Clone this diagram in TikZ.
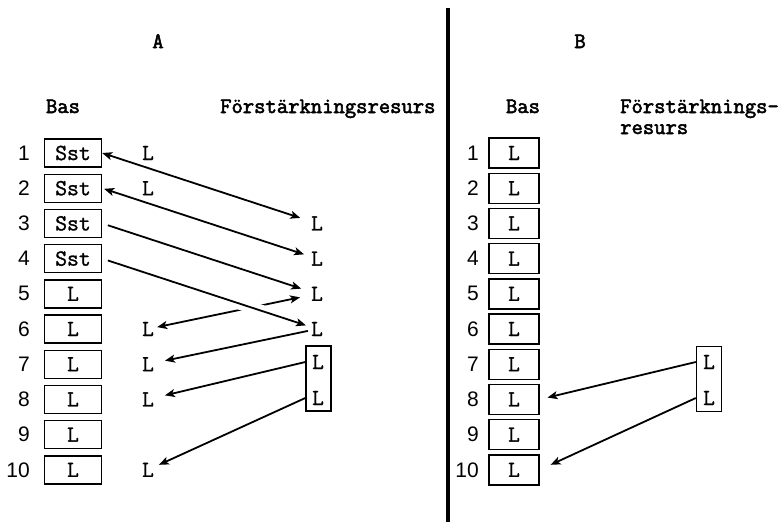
\documentclass[tikz,border=0pt]{standalone}
\usepackage{fontspec}
\setsansfont{Liberation Sans}
\newfontfamily\twr{Latin Modern Mono}[FakeBold=1.2]
\newfontfamily\twb{Latin Modern Mono}[FakeBold=2.5]
\usetikzlibrary{arrows.meta}
\begin{document}
\begin{tikzpicture}[x=1pt,y=-1pt,
  hdr/.style={font=\twb\fontsize{22}{21}\selectfont, inner sep=0pt, anchor=base},
  hdrw/.style={hdr, anchor=base west},
  num/.style={font=\sffamily\fontsize{21}{21}\selectfont, anchor=east, inner sep=0pt},
  lab/.style={font=\twr\fontsize{23}{23}\selectfont, inner sep=3pt},
  cell/.style={draw, line width=1.4pt, minimum width=57pt, minimum height=28pt, inner sep=0pt, font=\twr\fontsize{23}{23}\selectfont},
  cellb/.style={cell, minimum width=50pt, minimum height=30pt},
  rbox/.style={draw, line width=1.4pt, minimum width=25pt, minimum height=65pt, inner sep=0pt},
  tip/.tip={Stealth[length=10pt,width=8pt,inset=2.5pt]},
  arr/.style={line width=1.8pt, -tip},
  darr/.style={line width=1.8pt, tip-tip},
]
\useasboundingbox (0,0) rectangle (783,522);
\fill[white] (0,0) rectangle (783,522);

% divider
\draw[line width=4pt] (448,8) -- (448,522);

% ---------- panel A ----------
\node[hdr] (hA) at (158,48) {A};
\node[hdr] (basA) at (63,113) {Bas};
\node[hdrw] (fA) at (220,113) {Förstärkningsresurs};

\foreach \i in {1,...,10}{
  \pgfmathsetmacro{\yy}{153+35.2*(\i-1)}
  \node[num] (nA\i) at (30,\yy) {\i};
  \ifnum\i<5
    \node[cell] (a\i) at (73,\yy) {Sst};
  \else
    \node[cell] (a\i) at (73,\yy) {L};
  \fi
  \node[num] (nB\i) at (479,\yy) {\i};
  \node[cellb] (b\i) at (514,\yy) {L};
}

% left L column (A)
\node[lab] (lA1) at (148,153) {L};
\node[lab] (lA2) at (148,188.2) {L};
\node[lab] (lA6) at (148,329) {L};
\node[lab] (lA7) at (148,364.2) {L};
\node[lab] (lA8) at (148,399.4) {L};
\node[lab] (lA10) at (148,469.8) {L};

% right L column (A)
\node[lab] (rA3) at (317,223.4) {L};
\node[lab] (rA4) at (317,258.6) {L};
\node[lab] (rA5) at (317,293.8) {L};
\node[lab] (rA6) at (317,329) {L};

% reinforcement box (A)
\node[rbox] (rboxA) at (318.5,378.5) {};
\node[lab] (RA7) at (318,362) {L};
\node[lab] (RA8) at (318,398) {L};

% arrows (A)
\draw[darr, shorten >=8pt] (a1.east) -- (rA3);
\draw[darr, shorten <=2pt, shorten >=4pt] (a2.east) -- (rA4);
\draw[arr, shorten <=6pt, shorten >=7pt] (a3.east) -- (rA5);
\draw[darr, shorten >=8pt] (lA6) -- (rA5);
\draw[arr, shorten <=6pt, shorten >=2pt, preaction={draw=white, line width=12pt, -}] (a4.east) -- (rA6);
\draw[arr, shorten >=8pt] (rA6) -- (lA7);
\draw[arr, shorten >=8pt] (RA7 -| rboxA.west) -- (lA8);
\draw[arr, shorten >=2pt] (RA8 -| rboxA.west) -- (lA10);

% ---------- panel B ----------
\node[hdr] (hB) at (580,48) {B};
\node[hdr] (basB) at (523,113) {Bas};
\node[hdrw] (fB1) at (620,113) {Förstärknings-};
\node[hdrw] (fB2) at (620,134) {resurs};

\node[rbox] (rboxB) at (709,379) {};
\node[lab] (RB7) at (709,362) {L};
\node[lab] (RB8) at (709,398) {L};

\draw[arr, shorten >=8pt] (RB7 -| rboxB.west) -- (b8.east);
\draw[arr, shorten >=12pt] (RB8 -| rboxB.west) -- (b10.east);
\end{tikzpicture}
\end{document}
